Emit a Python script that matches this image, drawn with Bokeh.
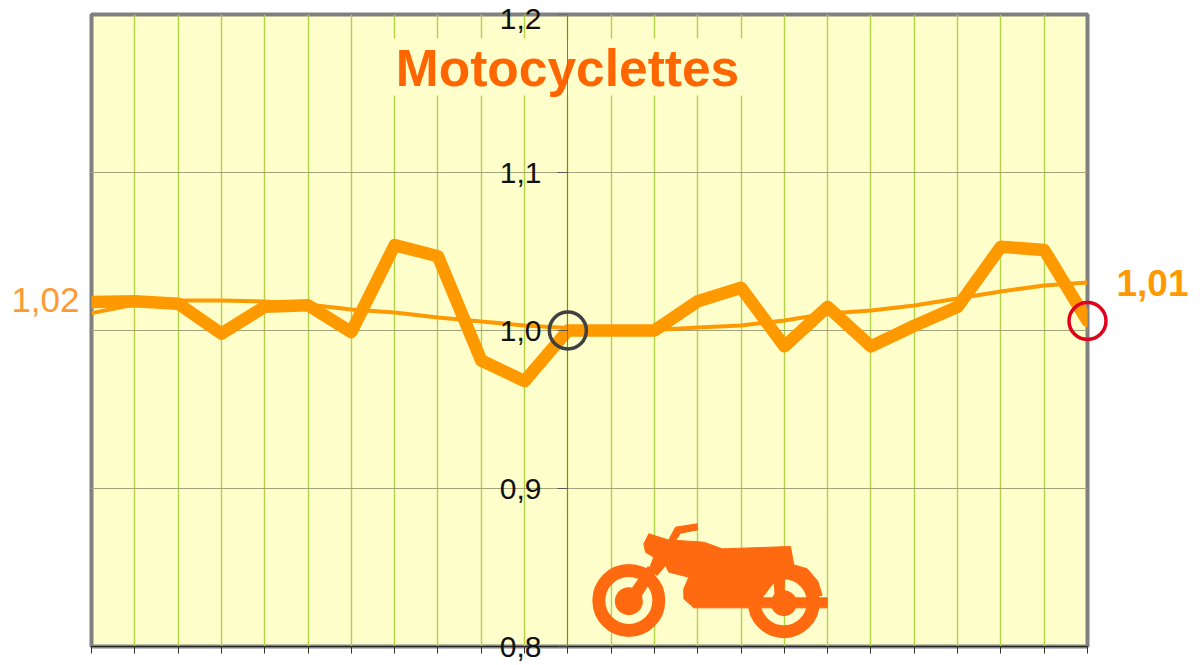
from bokeh.plotting import figure
from bokeh.embed import file_html
from bokeh.resources import INLINE
from bokeh.models import FixedTicker, Range1d
from bokeh.core.properties import value

# ---------- chart data ----------
periods = list(range(24))
index_values = [1.018, 1.0185, 1.017, 0.998, 1.015, 1.016, 0.999, 1.054, 1.047, 0.981, 0.968, 1.0,
                1.0, 1.0, 1.0185, 1.027, 0.990, 1.015, 0.990, 1.003, 1.015, 1.053, 1.051, 1.006]
trend_values = [1.011, 1.0165, 1.0190, 1.0190, 1.0183, 1.0165, 1.0133, 1.0114, 1.0082, 1.0057, 1.0032, 1.0016,
                1.0003, 1.0003, 1.0019, 1.0032, 1.0063, 1.0108, 1.0127, 1.0158, 1.0203, 1.0247, 1.0285, 1.0304]
y_ticks = [0.8, 0.9, 1.0, 1.1, 1.2]
y_tick_labels = ["0,8", "0,9", "1,0", "1,1", "1,2"]
title_text = "Motocyclettes"
first_label = "1,02"
last_label = "1,01"
base_period = 11
base_value = 1.0

# ---------- page geometry ----------
W, H = 1200, 665
L, R, T, B = 91, 1087, 14, 646
ORANGE = "#FF9900"
ICON = "#FF6A10"
FONT = value("Liberation Sans")


def dx(px):
    return (px - L) / (R - L) * 23


def dy(py):
    return 1.2 - (py - T) / (B - T) * 0.4


p = figure(width=W, height=H, output_backend="svg", toolbar_location=None,
           x_range=Range1d(0, 23), y_range=Range1d(0.8, 1.2),
           min_border_left=L, min_border_right=W - R, min_border_top=T, min_border_bottom=H - B,
           background_fill_color="#FFFFCC", border_fill_color="#FFFFFF",
           outline_line_color="#808080", outline_line_width=4)

p.xaxis.ticker = FixedTicker(ticks=periods)
p.xaxis.major_label_overrides = {i: "" for i in periods}
p.xaxis.major_label_text_font_size = "1px"
p.xaxis.major_label_standoff = 0
p.xaxis.major_tick_out = 7
p.xaxis.major_tick_in = 0
p.xaxis.minor_tick_line_color = None
p.xaxis.axis_line_color = "#222222"
p.xaxis.major_tick_line_color = "#333333"

p.yaxis.ticker = FixedTicker(ticks=y_ticks)
p.yaxis.major_label_overrides = {t: "" for t in y_ticks}
p.yaxis.major_label_text_font_size = "1px"
p.yaxis.fixed_location = base_period
p.yaxis.major_tick_in = 0
p.yaxis.major_tick_out = 10
p.yaxis.minor_tick_line_color = None
p.yaxis.axis_line_color = "#777777"
p.yaxis.major_tick_line_color = "#555555"

p.xgrid.ticker = FixedTicker(ticks=periods)
p.xgrid.grid_line_color = "#B2D246"
p.xgrid.grid_line_width = 1.4
p.ygrid.ticker = FixedTicker(ticks=y_ticks)
p.ygrid.grid_line_color = "#A3A37A"
p.ygrid.grid_line_width = 1

# title backing band
p.quad(left=[dx(388)], right=[dx(746)], top=[dy(38)], bottom=[dy(95)],
       fill_color="#FFFFCC", line_color=None)


# motorcycle pictogram (decoration, traced in a 3x crop around its corner)
def ix(z):
    return dx(580 + z / 3)


def iy(z):
    return dy(510 + z / 3)


shapes = [
    # tank, seat, engine
    [(190, 100), (205, 70), (262, 88), (370, 95), (425, 115), (630, 108), (640, 165), (600, 205), (575, 222),
     (545, 262), (510, 292), (340, 292), (310, 265), (310, 235), (325, 200), (265, 185), (255, 165), (230, 195),
     (210, 165), (220, 140), (195, 125)],
    # handlebar
    [(265, 88), (285, 50), (350, 40), (352, 58), (300, 68), (285, 90)],
    # fork
    [(200, 170), (240, 165), (180, 260), (150, 240)],
    # rear spoke, exhaust bar
    [(580, 200), (612, 200), (610, 270), (585, 270)],
    [(520, 262), (740, 262), (740, 292), (520, 292)],
    # rear fender
    [(630, 160), (680, 175), (712, 212), (725, 255), (700, 255), (680, 205), (640, 195)],
]
p.patches([[ix(a) for a, _ in s] for s in shapes], [[iy(b) for _, b in s] for s in shapes],
          fill_color=ICON, line_color=ICON, line_width=1)
p.scatter([ix(145), ix(610)], [iy(270), iy(275)], marker="circle", size=[60, 59],
          fill_color=None, line_color=ICON, line_width=13)
p.scatter([ix(145), ix(610)], [iy(272), iy(278)], marker="circle", size=[28, 26],
          fill_color=ICON, line_color=None)

# series
p.line(periods, trend_values, line_color=ORANGE, line_width=4)
p.line(periods, index_values, line_color=ORANGE, line_width=12.5, line_cap="round", line_join="round")

# marker rings
p.scatter([base_period], [base_value], marker="circle", size=37, fill_color=None,
          line_color="#404040", line_width=3.5, level="overlay")
p.scatter([periods[-1]], [index_values[-1]], marker="circle", size=37, fill_color=None,
          line_color="#E0001B", line_width=3.5, level="overlay")

# vertical-axis labels (drawn as overlay text: they overhang the frame)
p.text([dx(541)] * len(y_ticks), y_ticks, text=y_tick_labels, text_font=FONT, text_font_size="30px",
       text_color="#111111", text_align="right", text_baseline="middle", level="overlay",
       y_offset=[0, 0, 0, 0, 4])

# texts
p.text([dx(567)], [dy(67)], text=[title_text], text_font=FONT, text_font_style="bold",
       text_font_size="51.5px", text_color="#FF6600", text_align="center", text_baseline="middle")
p.text([dx(79)], [dy(299)], text=[first_label], text_font=FONT, text_font_size="35px",
       text_color="#FF9933", text_align="right", text_baseline="middle", level="overlay")
p.text([dx(1116)], [dy(282)], text=[last_label], text_font=FONT, text_font_style="bold", text_font_size="37px",
       text_color=ORANGE, text_align="left", text_baseline="middle", level="overlay")

open("out.html", "w").write(file_html(p, INLINE))
